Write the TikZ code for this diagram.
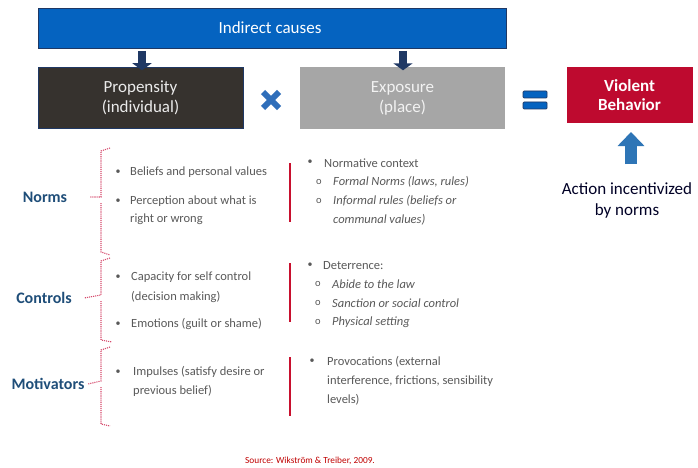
\documentclass[tikz,border=0pt]{standalone}
\usepackage{fontspec}
\setmainfont{Carlito}
\usetikzlibrary{arrows.meta}
\definecolor{topblue}{HTML}{0563C0}
\definecolor{darkbox}{HTML}{36322E}
\definecolor{graybox}{HTML}{A6A6A6}
\definecolor{redbox}{HTML}{BE0A2F}
\definecolor{navy}{HTML}{1F3864}
\definecolor{uparrow}{HTML}{2E75B6}
\definecolor{labelblue}{HTML}{1F4E79}
\definecolor{bodygray}{HTML}{595959}
\definecolor{brackred}{HTML}{D6496C}
\definecolor{linered}{HTML}{C8102E}
\definecolor{srcred}{HTML}{C00000}
\definecolor{symblue}{HTML}{2F6EBA}
\tikzset{
  box/.style={draw=none, minimum height=61pt, text width=200pt, align=center, font=\fontsize{17}{20}\selectfont, inner sep=0pt},
  body/.style={anchor=west, text=bodygray, font=\fontsize{12.5}{15}\selectfont, inner sep=0pt},
  sub/.style={body, font=\fontsize{12.5}{15}\selectfont\itshape},
  dot/.style={anchor=center, text=bodygray, font=\fontsize{10}{12}\selectfont, inner sep=0pt},
  grp/.style={anchor=center, text=labelblue, font=\fontsize{16}{19}\selectfont\bfseries, inner sep=0pt},
  brack/.style={draw=brackred, line width=1.1pt, densely dotted},
  vline/.style={draw=linered, line width=1.3pt},
  downarr/.style={draw=navy, line width=8pt, -{Triangle[width=19pt,length=7pt]}},
}
\begin{document}
\begin{tikzpicture}[x=1pt,y=-1pt]
\useasboundingbox (0,0) rectangle (698,468);
\fill[white] (0,0) rectangle (698,468);

% top bar
\node[fill=topblue, draw=navy, line width=0.5pt, minimum width=468pt, minimum height=40pt, inner sep=0pt, text=white, font=\fontsize{17}{20}\selectfont] (ind) at (272,28) {\hspace*{-4pt}Indirect causes};

% main boxes
\node[box, fill=darkbox, draw=navy, line width=0.5pt, minimum width=205pt, text=white!92!black] (prop) at (140.5,98) {Propensity\\(individual)};
\node[box, fill=graybox, minimum width=205pt, text=white!90!gray] (expo) at (402.5,98) {Exposure\\(place)};
\node[box, fill=redbox, minimum width=126pt, minimum height=56pt, text width=120pt, text=white, font=\fontsize{17}{19}\selectfont\bfseries] (viol) at (629.5,95) {Violent\\Behavior};

% down arrows
\coordinate (a1) at (142,51);
\coordinate (a2) at (403,51);
\draw[downarr] (a1) -- ([yshift=-3pt]a1 |- prop.north);
\draw[downarr] (a2) -- ([yshift=-3pt]a2 |- expo.north);

% times symbol
\coordinate (times) at (271,100);
\draw[symblue, line width=6pt] ([shift={(-8,-8)}]times) -- ([shift={(8,8)}]times);
\draw[symblue, line width=6pt] ([shift={(-8,8)}]times) -- ([shift={(8,-8)}]times);

% equals symbol
\coordinate (eq) at (535,100);
\draw[fill=topblue, draw=navy, line width=0.7pt, rounded corners=1pt] ([shift={(-12,-9)}]eq) rectangle ([shift={(12,-2)}]eq);
\draw[fill=topblue, draw=navy, line width=0.7pt, rounded corners=1pt] ([shift={(-12,2)}]eq) rectangle ([shift={(12,9)}]eq);

% up arrow and action text
\node[anchor=center, font=\fontsize{17}{21}\selectfont, text=black!85!blue, align=center, inner sep=0pt] (act) at (627,200) {Action incentivized\\by norms};
\coordinate (ua) at (631,164);
\draw[uparrow, line width=12pt, -{Triangle[width=26pt,length=14pt]}] (ua) -- (ua |- 0,132);

% group labels
\node[grp] (norms) at (45,197) {Norms};
\node[grp] (controls) at (44,298) {Controls};
\node[grp] (motiv) at (48,384) {Motivators};

% brackets
\draw[brack] (110,148) -- (101,151) -- (101,197) -- (norms.east -| 90,0) (101,203) -- (101,252) -- (110,255);
\draw[brack] (110,258) -- (101,261) -- (101,295) -- (controls.east -| 84,0) (101,301) -- (101,340) -- (112,342);
\draw[brack] (110,347) -- (101,350) -- (101,381) -- (motiv.east -| 88,0) (101,387) -- (101,424) -- (110,426);

% vertical red lines
\coordinate (v1t) at (290,163); \coordinate (v1b) at (290,222);
\coordinate (v2t) at (290,263); \coordinate (v2b) at (290,322);
\coordinate (v3t) at (290,357); \coordinate (v3b) at (290,416);
\draw[vline] (v1t) -- (v1b);
\draw[vline] (v2t) -- (v2b);
\draw[vline] (v3t) -- (v3b);

% left column
\node[dot] (b1) at (118,172) {•};
\node[body] (t1) at (130,172) {Beliefs and personal values};
\node[dot] (b2) at (118,201) {•};
\node[body] (t2) at (130,201) {Perception about what is};
\node[body] (t2b) at (130,219) {right or wrong};
\node[dot] (b3) at (118,277) {•};
\node[body] (t3) at (131,277) {Capacity for self control};
\node[body] (t3b) at (131,297) {(decision making)};
\node[dot] (b4) at (118,324) {•};
\node[body] (t4) at (131,324) {Emotions (guilt or shame)};
\node[dot] (b5) at (118,372) {•};
\node[body] (t5) at (133,372) {Impulses (satisfy desire or};
\node[body] (t5b) at (133,391) {previous belief)};

% right column
\node[dot] (r1) at (310,162) {•};
\node[body] (rt1) at (324,163) {Normative context};
\node[body, font=\fontsize{10.5}{12}\selectfont] (o1) at (316,182) {o};
\node[sub] (rt2) at (333,182) {Formal Norms (laws, rules)};
\node[body, font=\fontsize{10.5}{12}\selectfont] (o2) at (316,201) {o};
\node[sub] (rt3) at (333,201) {Informal rules (beliefs or};
\node[sub] (rt3b) at (333,220) {communal values)};
\node[dot] (r2) at (310,265) {•};
\node[body] (rt4) at (323,266) {Deterrence:};
\node[body, font=\fontsize{10.5}{12}\selectfont] (o3) at (315,284) {o};
\node[sub] (rt5) at (332,284) {Abide to the law};
\node[body, font=\fontsize{10.5}{12}\selectfont] (o4) at (315,303) {o};
\node[sub] (rt6) at (332,303) {Sanction or social control};
\node[body, font=\fontsize{10.5}{12}\selectfont] (o5) at (315,322) {o};
\node[sub] (rt7) at (332,322) {Physical setting};
\node[dot] (r3) at (312,361) {•};
\node[body] (rt8) at (327,362) {Provocations (external};
\node[body] (rt8b) at (327,381) {interference, frictions, sensibility};
\node[body] (rt8c) at (327,400) {levels)};

% source
\node[anchor=center, text=srcred, font=\fontsize{9.3}{11}\selectfont, inner sep=0pt] (src) at (310,461) {Source: Wikström \& Treiber, 2009.};
\end{tikzpicture}
\end{document}
